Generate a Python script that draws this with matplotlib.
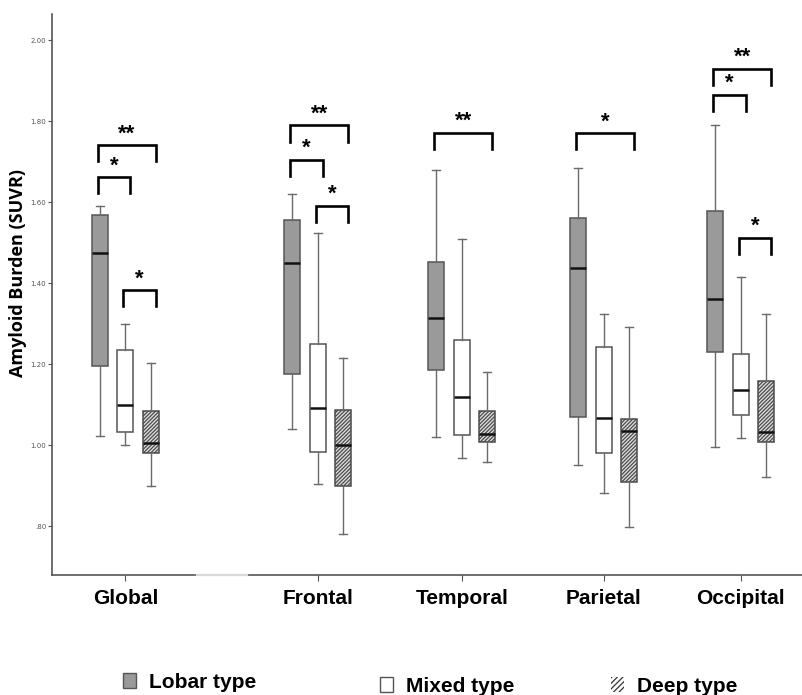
import matplotlib
matplotlib.use("Agg")
import matplotlib.pyplot as plt
from matplotlib.patches import Patch

plt.rcParams['hatch.linewidth'] = 0.9

# regions (x categories)
regions = ['Global', 'Frontal', 'Temporal', 'Parietal', 'Occipital']

# box statistics (SUVR)
lobar_hi = [1.592, 1.620, 1.680, 1.684, 1.790]
lobar_q3 = [1.569, 1.557, 1.452, 1.562, 1.578]
lobar_med = [1.476, 1.450, 1.315, 1.438, 1.362]
lobar_q1 = [1.197, 1.175, 1.185, 1.070, 1.230]
lobar_lo = [1.024, 1.040, 1.020, 0.951, 0.996]

mixed_hi = [1.300, 1.525, 1.510, 1.324, 1.416]
mixed_q3 = [1.236, 1.250, 1.260, 1.243, 1.226]
mixed_med = [1.100, 1.093, 1.120, 1.068, 1.136]
mixed_q1 = [1.033, 0.983, 1.025, 0.981, 1.076]
mixed_lo = [1.000, 0.905, 0.970, 0.883, 1.017]

deep_hi = [1.204, 1.215, 1.180, 1.292, 1.324]
deep_q3 = [1.085, 1.088, 1.085, 1.065, 1.160]
deep_med = [1.005, 1.002, 1.028, 1.036, 1.033]
deep_q1 = [0.981, 0.900, 1.008, 0.909, 1.009]
deep_lo = [0.900, 0.782, 0.958, 0.799, 0.922]

# significance brackets: (region, left type, right type, height, label)
sig_region = [0, 0, 0, 1, 1, 1, 2, 3, 4, 4, 4]
sig_left = [0, 0, 1, 0, 0, 1, 0, 0, 0, 0, 1]
sig_right = [1, 2, 2, 1, 2, 2, 2, 2, 1, 2, 2]
sig_height = [1.662, 1.741, 1.383, 1.705, 1.790, 1.592, 1.772, 1.771, 1.865, 1.930, 1.512]
sig_label = ['*', '**', '*', '*', '**', '*', '**', '*', '*', '**', '*']

ytick_vals = [0.80, 1.00, 1.20, 1.40, 1.60, 1.80, 2.00]
ytick_text = ['.80', '1.00', '1.20', '1.40', '1.60', '1.80', '2.00']

# layout (x in pixel-like units)
group_x = [125.5, 318, 462, 604, 740.7]
offsets = [-25.5, 0, 25.5]
box_w = 16

fig = plt.figure(figsize=(8.02, 6.95), dpi=100)
ax = fig.add_axes([51.7 / 802, 1 - 575 / 695, 1 - 51.7 / 802, (575 - 14) / 695])


def stats(lo, q1, med, q3, hi):
    return [{'whislo': a, 'q1': b, 'med': c, 'q3': d, 'whishi': e, 'fliers': []}
            for a, b, c, d, e in zip(lo, q1, med, q3, hi)]


types = [
    (stats(lobar_lo, lobar_q1, lobar_med, lobar_q3, lobar_hi), '#9a9a9a', '#555555', None),
    (stats(mixed_lo, mixed_q1, mixed_med, mixed_q3, mixed_hi), 'white', '#555555', None),
    (stats(deep_lo, deep_q1, deep_med, deep_q3, deep_hi), '#dedede', '#4a4a4a', '/' * 9),
]

for k, (st, fc, ec, hatch) in enumerate(types):
    pos = [g + offsets[k] for g in group_x]
    res = ax.bxp(st, positions=pos, widths=box_w, patch_artist=True,
                 showfliers=False, capwidths=8,
                 boxprops=dict(facecolor=fc, edgecolor=ec, linewidth=1.1),
                 medianprops=dict(color='#111111', linewidth=1.8),
                 whiskerprops=dict(color='#6a6a6a', linewidth=1.0),
                 capprops=dict(color='#6a6a6a', linewidth=1.0))
    if hatch:
        for b in res['boxes']:
            b.set_hatch(hatch)

# brackets
drop = 0.04
for r, a, b, h, lab in zip(sig_region, sig_left, sig_right, sig_height, sig_label):
    x0 = group_x[r] + offsets[a] - 2
    x1 = group_x[r] + offsets[b] + 5
    ax.plot([x0, x0, x1, x1], [h - drop, h, h, h - drop], color='black', lw=1.9,
            solid_joinstyle='miter')
    ax.text((x0 + x1) / 2, h + 0.002, lab, ha='center', va='bottom',
            fontsize=16, fontweight='bold', family='Liberation Sans')

ax.set_xlim(51.7, 802)
ax.set_ylim(0.680, 2.065)
ax.set_xticks(group_x)
ax.set_xticklabels(regions, fontsize=15, fontweight='bold', family='Liberation Sans')
ax.set_yticks(ytick_vals)
ax.set_yticklabels(ytick_text, fontsize=5, color='#555555')
ax.tick_params(axis='y', length=3, width=0.8, color='#555555', pad=1)
ax.tick_params(axis='x', length=4, width=0.8, color='#555555', pad=6)

for s in ['top', 'right']:
    ax.spines[s].set_visible(False)
for s in ['left', 'bottom']:
    ax.spines[s].set_color('#555555')
    ax.spines[s].set_linewidth(1.2)
# faint stretch of the baseline
ax.plot([197, 247], [0.680, 0.680], color='#d8d8d8', lw=1.6, clip_on=False, zorder=5)

ax.set_ylabel('Amyloid Burden (SUVR)', fontsize=13, fontweight='bold', family='Open Sans')
ax.yaxis.set_label_coords(-0.033, 0.539)

# legend entries
leg_items = [
    (Patch(facecolor='#9a9a9a', edgecolor='#555555', linewidth=1.0), 'Lobar type', 123, 682),
    (Patch(facecolor='white', edgecolor='#555555', linewidth=1.0), 'Mixed type', 380, 686),
    (Patch(facecolor='white', edgecolor='#333333', linewidth=0, hatch='//////'), 'Deep type', 611, 686),
]
for h, lab, px, py in leg_items:
    fig.legend([h], [lab], loc='center left', bbox_to_anchor=(px / 802, 1 - py / 695),
               frameon=False, borderpad=0, borderaxespad=0, handlelength=0.62,
               handleheight=0.75, handletextpad=0.65,
               prop=dict(family='Liberation Sans', weight='bold', size=15))

fig.savefig('out.png', dpi=100)
